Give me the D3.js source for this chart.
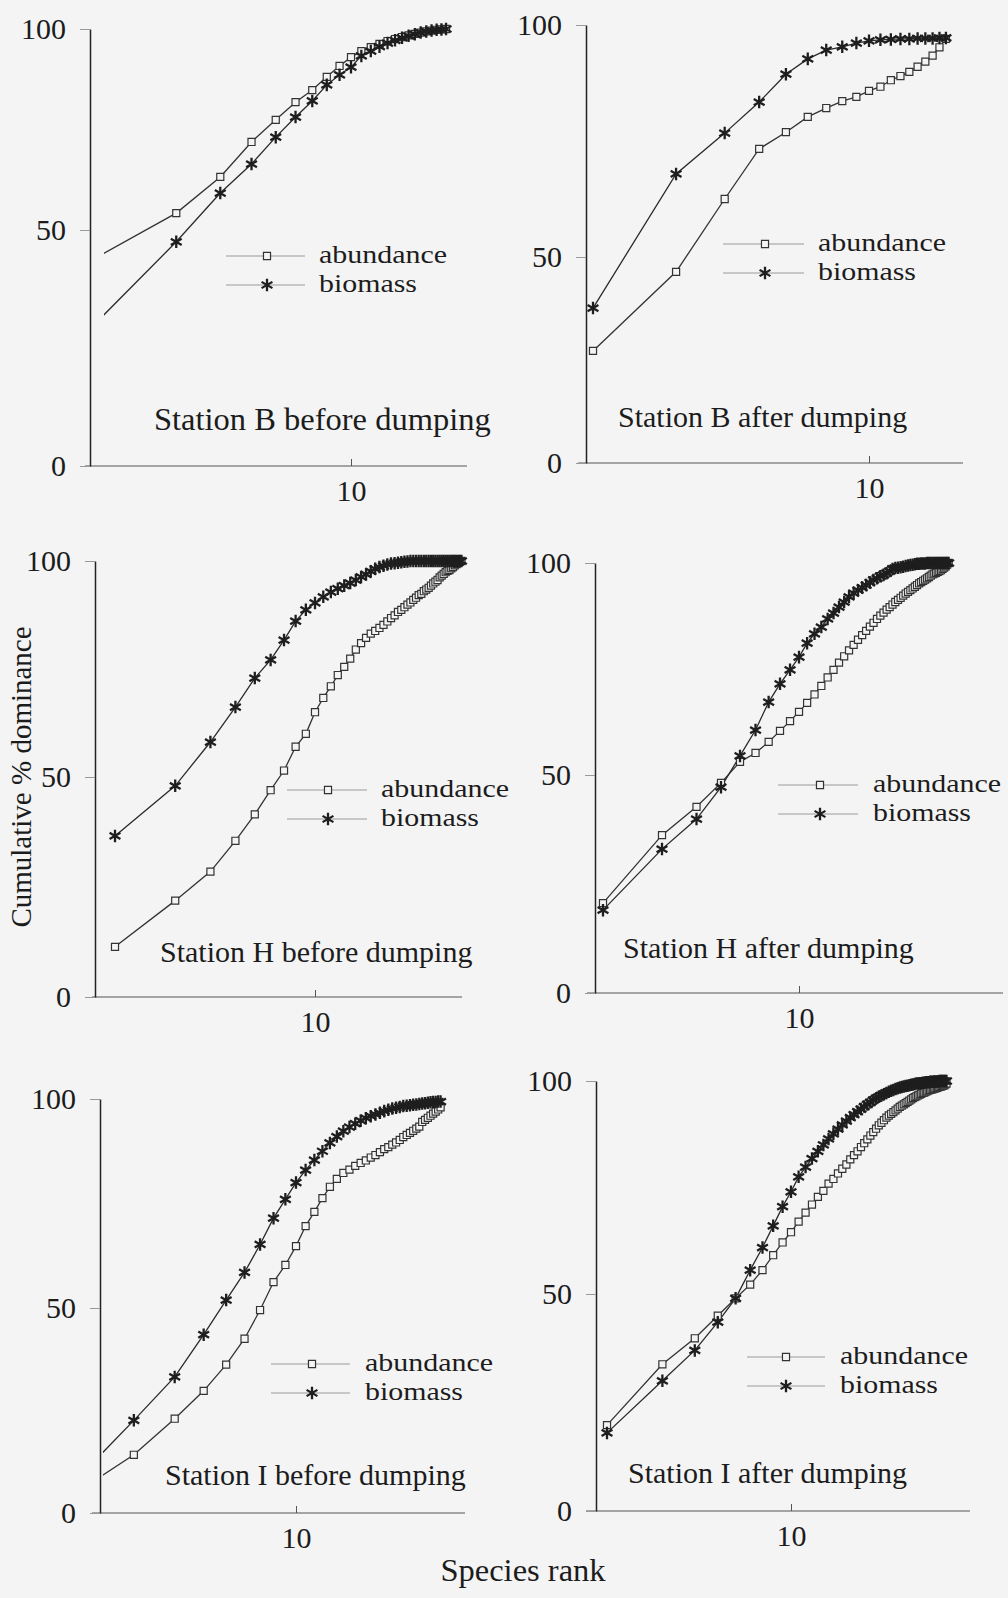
<!DOCTYPE html>
<html>
<head>
<meta charset="utf-8">
<script src="https://cdn.jsdelivr.net/npm/d3@7"></script>
<style>
body { margin: 0; background: #f4f4f4; }
svg { display: block; font-family: "Liberation Serif", "Times New Roman", serif; }
</style>
</head>
<body>
<script>
// ---- data: cumulative % dominance by species rank ----
const titles = ['Station B before dumping', 'Station B after dumping',
                'Station H before dumping', 'Station H after dumping',
                'Station I before dumping', 'Station I after dumping'];
const yTicks = [0, 50, 100];
const xTicks = [10];
const seriesNames = ['abundance', 'biomass'];

const abundanceBBefore = [44.7,54.2,63.2,71.9,77.4,81.8,84.8,88.1,90.8,93.0,94.5,95.5,96.3,97.0,97.5,98.0,98.4,98.8,99.1,99.4,99.6,99.8,99.9,100];
const biomassBBefore   = [31.4,47.5,59.2,66.4,73.1,78.1,82.1,86.1,88.6,90.5,93.3,94.5,95.6,96.5,97.2,97.8,98.3,98.7,99.1,99.4,99.6,99.8,99.9,100];

const abundanceBAfter = [27.2,46.4,62.5,73.3,76.9,80.2,82.1,83.6,84.5,85.8,86.7,88.1,89.0,89.9,91.0,92.1,93.4,95.2,97.0];
const biomassBAfter   = [37.6,67.9,76.7,83.4,89.4,92.7,94.6,95.3,96.1,96.6,96.8,96.9,97.0,97.0,97.1,97.1,97.1,97.2,97.2];

const abundanceHBefore = [11.4,21.9,28.5,35.5,41.5,47.0,51.5,57.0,60.0,65.0,
  68.3,71.0,73.6,75.5,77.4,79.5,81.0,82.2,83.2,83.8,
  84.5,85.2,86.0,86.8,87.4,88.2,88.7,89.3,89.9,90.4,
  91.0,91.5,92.1,92.4,93.0,93.4,93.8,94.3,94.8,95.2,
  95.6,96.2,96.6,97.0,97.4,97.7,97.9,98.3,98.6,99.0,
  99.3,99.6,99.8,100];
const biomassHBefore = [36.6,48.0,58.1,66.2,72.9,77.1,81.7,86.1,88.7,90.3,
  91.7,92.8,93.6,94.3,94.9,95.6,96.3,96.9,97.6,98.2,
  98.6,98.9,99.2,99.4,99.5,99.6,99.7,99.8,99.9,100,
  100,100,100,100,100,100,100,100,100,100,
  100,100,100,100,100,100,100,100,100,100,
  100,100,100,100];

const abundanceHAfter = [20.6,36.2,42.7,48.2,53.1,55.2,57.8,60.4,62.7,64.9,
  67.0,69.0,71.0,73.0,74.8,76.5,78.0,79.4,80.7,81.9,
  83.0,84.0,85.0,85.9,86.8,87.6,88.3,89.0,89.6,90.2,
  90.8,91.3,91.8,92.3,92.8,93.2,93.6,94.0,94.4,94.8,
  95.2,95.5,95.8,96.1,96.4,96.7,97.0,97.3,97.5,97.7,
  97.9,98.1,98.3,98.6,98.9,99.2,99.6,100];
const biomassHAfter = [19.0,33.0,39.9,47.2,54.5,60.6,67.2,71.5,74.8,77.8,
  81.1,83.3,84.9,86.8,88.2,89.6,90.8,92.0,92.9,93.6,
  94.2,94.8,95.4,96.0,96.4,96.9,97.2,97.6,98.1,98.6,
  98.8,98.9,99.0,99.1,99.3,99.4,99.5,99.6,99.7,99.8,
  99.8,99.9,99.9,99.9,100,100,100,100,100,100,
  100,100,100,100,100,100,100,100];

const abundanceIBefore = [3.0,14.2,23.0,29.8,36.2,42.5,49.5,56.2,60.3,64.8,
  69.6,73.0,76.3,79.0,80.9,82.3,83.1,84.0,84.7,85.3,
  86.0,86.6,87.3,88.0,88.5,89.1,89.6,90.2,90.9,91.4,
  91.9,92.4,92.9,93.4,94.5,95.0,95.5,96.0,96.5,97.0,
  97.5,98.0];
const biomassIBefore = [5.0,22.6,33.2,43.5,51.9,58.5,65.2,71.5,76.0,80.0,
  83.0,85.4,87.5,89.5,91.0,92.3,93.3,94.1,94.8,95.4,
  95.9,96.3,96.7,97.1,97.4,97.7,97.9,98.1,98.3,98.4,
  98.5,98.6,98.7,98.8,98.9,99.0,99.1,99.2,99.3,99.3,
  99.4,99.4];

const abundanceIAfter = [19.8,33.8,39.8,45.0,49.0,52.2,55.6,59.1,62.1,64.5,
  67.0,69.1,71.0,72.8,74.2,75.9,77.0,78.3,79.4,80.4,
  81.6,82.6,83.5,84.5,85.4,86.3,87.2,88.0,88.8,89.6,
  90.2,90.8,91.4,91.9,92.3,92.7,93.1,93.5,93.9,94.2,
  94.5,94.8,95.1,95.4,95.7,96.0,96.2,96.4,96.6,96.8,
  97.0,97.2,97.3,97.5,97.6,97.8,97.9,98.0,98.1,98.2,
  98.3,98.4,98.5,98.6,98.7,98.8,98.9,99.0,99.2,99.4];
const biomassIAfter = [18.0,30.0,37.0,43.5,49.0,55.6,60.9,66.0,70.5,74.0,
  77.5,79.8,81.8,83.5,85.0,86.4,87.6,88.7,89.7,90.6,
  91.4,92.1,92.8,93.4,94.0,94.5,95.0,95.5,95.9,96.3,
  96.6,96.9,97.2,97.5,97.7,97.9,98.1,98.3,98.5,98.6,
  98.7,98.8,98.9,99.0,99.1,99.2,99.3,99.4,99.4,99.5,
  99.5,99.6,99.6,99.7,99.7,99.7,99.8,99.8,99.8,99.9,
  99.9,99.9,99.9,100,100,100,100,100,100,100];

const abundanceSeries = [abundanceBBefore, abundanceBAfter, abundanceHBefore, abundanceHAfter, abundanceIBefore, abundanceIAfter];
const biomassSeries   = [biomassBBefore, biomassBAfter, biomassHBefore, biomassHAfter, biomassIBefore, biomassIAfter];

// ---- layout of the six scanned panels (pixels) ----
const layout = [
  {axisX: 90,  y0: 466,  y50: 230,  y100: 29,   xAxis: [85, 467],   x0: 101, decade: 250, clipX: 104,
   titleX: 154, titleY: 430,  titleSize: 32.5, leg: {x1: 226, x2: 305, mx: 267, ya: 256,  yb: 285,  tx: 319}},
  {axisX: 586, y0: 463,  y50: 257,  y100: 25,   xAxis: [578, 963],  x0: 593, decade: 276, clipX: 588,
   titleX: 618, titleY: 427,  titleSize: 30, leg: {x1: 723, x2: 804, mx: 765, ya: 244,  yb: 273,  tx: 818}},
  {axisX: 95,  y0: 997,  y50: 777,  y100: 561,  xAxis: [92, 462],   x0: 115, decade: 200, clipX: 97,
   titleX: 160, titleY: 962,  titleSize: 30, leg: {x1: 287, x2: 367, mx: 328, ya: 790,  yb: 819,  tx: 381}},
  {axisX: 595, y0: 993,  y50: 775,  y100: 563,  xAxis: [587, 1003], x0: 603, decade: 196, clipX: 597,
   titleX: 623, titleY: 958,  titleSize: 30, leg: {x1: 778, x2: 858, mx: 820, ya: 785,  yb: 814,  tx: 873}},
  {axisX: 100, y0: 1513, y50: 1308, y100: 1099, xAxis: [92, 465],   x0: 64,  decade: 232, clipX: 103,
   titleX: 165, titleY: 1485, titleSize: 30, leg: {x1: 271, x2: 350, mx: 312, ya: 1364, yb: 1393, tx: 365}},
  {axisX: 596, y0: 1511, y50: 1294, y100: 1081, xAxis: [586, 970],  x0: 607, decade: 184, clipX: 598,
   titleX: 628, titleY: 1483, titleSize: 30, leg: {x1: 747, x2: 825, mx: 786, ya: 1357, yb: 1386, tx: 840}}
];
const legendWidths = [128, 98];

const bg = '#f4f4f4';
const ink = '#1c1c1c';

const svg = d3.select('body').append('svg')
  .attr('width', 1008)
  .attr('height', 1598);

svg.append('rect').attr('width', 1008).attr('height', 1598).attr('fill', bg);

const square = d3.symbol(d3.symbolSquare, 50);
const asterisk = d3.symbol(d3.symbolAsterisk, 110);

const drawSquare = (sel) => sel.attr('d', square)
  .attr('fill', bg).attr('stroke', '#333').attr('stroke-width', 1.2);
const drawAsterisk = (sel) => sel.attr('d', asterisk)
  .attr('fill', 'none').attr('stroke', '#1e1e1e').attr('stroke-width', 2.3);

layout.forEach((L, i) => {
  const abundance = abundanceSeries[i];
  const biomass = biomassSeries[i];
  const ranks = d3.range(1, abundance.length + 1);

  // log rank scale, linear-by-part % scale (scan is slightly warped)
  const x = d3.scaleLog().domain([1, 10]).range([L.x0, L.x0 + L.decade]);
  const y = d3.scaleLinear().domain(yTicks).range([L.y0, L.y50, L.y100]);

  const g = svg.append('g');

  svg.append('clipPath').attr('id', 'clip' + i)
    .append('rect')
    .attr('x', L.clipX).attr('y', L.y100 - 30)
    .attr('width', L.xAxis[1] - L.clipX + 20)
    .attr('height', L.y0 - L.y100 + 40);

  // x axis line
  g.append('line')
    .attr('x1', L.xAxis[0]).attr('x2', L.xAxis[1])
    .attr('y1', L.y0).attr('y2', L.y0)
    .attr('stroke', '#8a8a8a').attr('stroke-width', 1.3);

  const gx = g.append('g')
    .attr('transform', `translate(0,${L.y0})`)
    .call(d3.axisBottom(x).tickValues(xTicks).tickFormat(d3.format('d')).tickSize(-7).tickPadding(14));
  gx.select('.domain').remove();
  gx.selectAll('line').attr('stroke', '#555');
  gx.selectAll('text').attr('font-size', 30).attr('font-family', 'Liberation Serif').attr('fill', ink);

  // y axis
  const gy = g.append('g')
    .attr('transform', `translate(${L.axisX},0)`)
    .call(d3.axisLeft(y).tickValues(yTicks).tickSize(10).tickSizeOuter(0).tickPadding(14));
  gy.select('.domain').attr('stroke', '#222').attr('stroke-width', 1.5);
  gy.selectAll('.tick line').attr('stroke', '#999');
  gy.selectAll('text').attr('font-size', 30).attr('font-family', 'Liberation Serif').attr('fill', ink);

  // curves
  const line = d3.line().x((d) => x(d[0])).y((d) => y(d[1]));
  const lines = g.append('g').attr('clip-path', `url(#clip${i})`);
  lines.append('path')
    .datum(ranks.map((r, k) => [r, abundance[k]]))
    .attr('d', line).attr('fill', 'none').attr('stroke', '#333').attr('stroke-width', 1.3);
  lines.append('path')
    .datum(ranks.map((r, k) => [r, biomass[k]]))
    .attr('d', line).attr('fill', 'none').attr('stroke', '#2a2a2a').attr('stroke-width', 1.3);

  const visible = ranks.filter((r) => x(r) >= L.clipX + 3);

  g.append('g').selectAll('path')
    .data(visible)
    .join('path')
    .attr('transform', (r) => `translate(${x(r)},${y(abundance[r - 1])})`)
    .call(drawSquare);

  g.append('g').selectAll('path')
    .data(visible)
    .join('path')
    .attr('transform', (r) => `translate(${x(r)},${y(biomass[r - 1])})`)
    .call(drawAsterisk);

  // panel title
  g.append('text')
    .attr('x', L.titleX).attr('y', L.titleY)
    .attr('font-size', L.titleSize).attr('fill', ink)
    .text(titles[i]);

  // legend
  const leg = g.append('g');
  [L.leg.ya, L.leg.yb].forEach((ly, k) => {
    leg.append('line')
      .attr('x1', L.leg.x1).attr('x2', L.leg.x2)
      .attr('y1', ly).attr('y2', ly)
      .attr('stroke', '#9a9a9a').attr('stroke-width', 1.2);
    leg.append('path')
      .attr('transform', `translate(${L.leg.mx},${ly})`)
      .call(k === 0 ? drawSquare : drawAsterisk);
    leg.append('text')
      .attr('x', L.leg.tx).attr('y', ly + 7)
      .attr('font-size', 26).attr('fill', ink)
      .attr('textLength', legendWidths[k]).attr('lengthAdjust', 'spacingAndGlyphs')
      .text(seriesNames[k]);
  });
});

// shared axis titles
svg.append('text')
  .attr('transform', 'translate(31,777) rotate(-90)')
  .attr('text-anchor', 'middle')
  .attr('font-size', 29).attr('fill', ink)
  .text('Cumulative % dominance');

svg.append('text')
  .attr('x', 523).attr('y', 1581)
  .attr('text-anchor', 'middle')
  .attr('font-size', 32.5).attr('fill', ink)
  .text('Species rank');
</script>
</body>
</html>
